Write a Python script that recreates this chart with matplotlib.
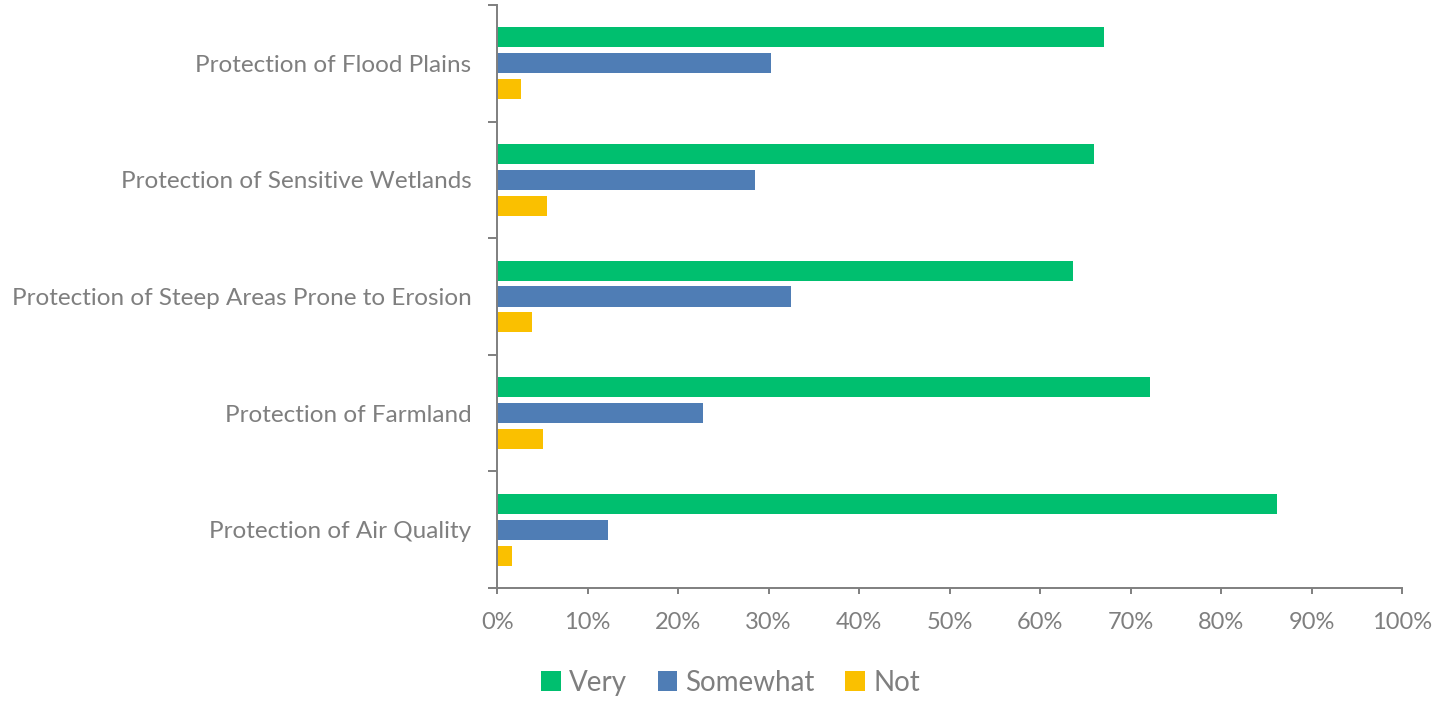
import matplotlib
matplotlib.use("Agg")
import matplotlib.pyplot as plt
import numpy as np

# survey: importance of each protection goal
categories = ["Protection of Flood Plains",
              "Protection of Sensitive Wetlands",
              "Protection of Steep Areas Prone to Erosion",
              "Protection of Farmland",
              "Protection of Air Quality"]
very = [67.1, 66.0, 63.6, 72.1, 86.2]
somewhat = [30.3, 28.5, 32.5, 22.8, 12.2]
not_imp = [2.6, 5.5, 3.9, 5.1, 1.6]

grey = "#7F7F7F"
plt.rcParams["font.family"] = ["Lato", "DejaVu Sans"]

fig = plt.figure(figsize=(14.41, 7.01), dpi=100)
ax = fig.add_axes([0.345, 0.161, 0.628, 0.832])

y = np.arange(len(categories))
h = 0.172
step = 0.221
ax.barh(y - step, very, height=h, color="#00BF6F", label="Very")
ax.barh(y, somewhat, height=h, color="#4F7DB5", label="Somewhat")
ax.barh(y + step, not_imp, height=h, color="#FAC000", label="Not")

ax.set_xlim(0, 100)
ax.set_ylim(len(categories) - 0.5, -0.5)
ax.set_xticks(np.arange(0, 101, 10))
ax.set_xticklabels([str(v) + "%" for v in range(0, 101, 10)])
ax.set_yticks(y)
ax.set_yticklabels(categories)
ax.set_yticks(np.arange(-0.5, len(categories), 1), minor=True)

for s in ["top", "right"]:
    ax.spines[s].set_visible(False)
for s in ["left", "bottom"]:
    ax.spines[s].set_color(grey)
    ax.spines[s].set_linewidth(1.4)

ax.tick_params(axis="y", which="major", length=0, pad=18.5, labelsize=17.5, labelcolor=grey)
ax.tick_params(axis="y", which="minor", length=6.5, width=1.4, color=grey)
ax.tick_params(axis="x", which="major", length=4.5, width=1.4, color=grey,
               pad=13, labelsize=17, labelcolor=grey)

leg = fig.legend(loc="center", bbox_to_anchor=(0.507, 0.026), ncol=3, frameon=False,
                 fontsize=20, handlelength=0.7, handleheight=0.7,
                 handletextpad=0.3, columnspacing=1.1)
for t in leg.get_texts():
    t.set_color(grey)

fig.savefig("out.png", dpi=100)
